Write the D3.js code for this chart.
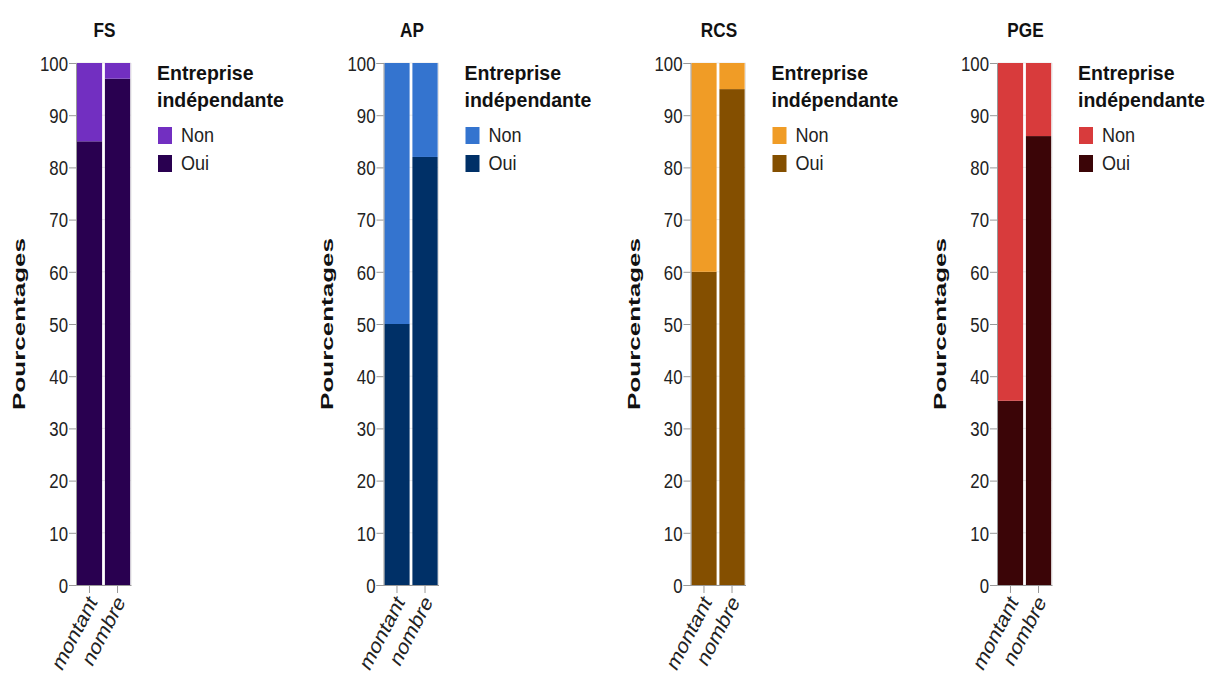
<!DOCTYPE html>
<html><head><meta charset="utf-8">
<script src="https://cdn.jsdelivr.net/npm/d3@7"></script>
<style>
body{margin:0;background:#fff;}
svg{display:block;}
text{font-family:"Liberation Sans",Arial,sans-serif;}
</style></head><body>
<svg id="c" width="1209" height="675"></svg>
<script>
const panels = ["FS","AP","RCS","PGE"];
const categories = ["montant","nombre"];
const legendTitle = ["Entreprise","indépendante"];
const legendLabels = ["Non","Oui"];
const ouiValues = {
  FS:  [85, 97],
  AP:  [50, 82],
  RCS: [60, 95],
  PGE: [35.3, 86]
};
const nonValues = {
  FS:  [15, 3],
  AP:  [50, 18],
  RCS: [40, 5],
  PGE: [64.7, 14]
};
const yTicks = [0,10,20,30,40,50,60,70,80,90,100];
const colorsNon = {FS:"#722fc1", AP:"#3474cf", RCS:"#f09c26", PGE:"#d83b3c"};
const colorsOui = {FS:"#290050", AP:"#003067", RCS:"#844f00", PGE:"#3b0507"};

const svg = d3.select("#c");
const panelX = [76, 383.5, 690.5, 997];
const plotW = 55;
const SX = 0.8;
const y = d3.scaleLinear().domain([0,100]).range([585,63]);

panels.forEach((p,i)=>{
  const g = svg.append("g").attr("transform",`translate(${panelX[i]},0)`);
  const x = d3.scaleBand().domain(categories).range([0,plotW]).paddingInner(0.1).paddingOuter(0.03);
  // grid
  g.append("g").selectAll("line").data(yTicks).join("line")
    .attr("x1",0).attr("x2",plotW).attr("y1",d=>y(d)).attr("y2",d=>y(d))
    .attr("stroke","#ebebeb").attr("stroke-width",1);
  g.append("line").attr("x1",plotW).attr("x2",plotW).attr("y1",y(0)).attr("y2",y(100)).attr("stroke","#e3e3e3");
  // stacked bars
  const rows = categories.map((c,k)=>({cat:c, oui:ouiValues[p][k], non:nonValues[p][k]}));
  g.append("g").selectAll("rect").data(rows).join("rect")
    .attr("x",d=>x(d.cat)).attr("width",x.bandwidth())
    .attr("y",d=>y(d.oui)).attr("height",d=>y(0)-y(d.oui))
    .attr("fill",colorsOui[p]);
  g.append("g").selectAll("rect").data(rows).join("rect")
    .attr("x",d=>x(d.cat)).attr("width",x.bandwidth())
    .attr("y",d=>y(d.oui+d.non)).attr("height",d=>y(d.oui)-y(d.oui+d.non))
    .attr("fill",colorsNon[p]);
  // y axis
  const ya = g.append("g").call(d3.axisLeft(y).tickValues(yTicks).tickSize(7));
  ya.select(".domain").attr("stroke","#999");
  ya.selectAll(".tick line").attr("stroke","#999");
  ya.selectAll("text").attr("font-size",21).attr("fill","#222").attr("font-family","Liberation Sans, Arial, sans-serif")
    .attr("x",0).attr("dy","0.35em").attr("transform",`translate(-8,0) scale(${SX},1)`);
  // x axis
  const xa = g.append("g").attr("transform",`translate(0,${y(0)})`).call(d3.axisBottom(x).tickSize(8).tickSizeOuter(0));
  xa.select(".domain").attr("stroke","#999");
  xa.selectAll(".tick line").attr("stroke","#999");
  xa.selectAll("text").attr("font-size",23).attr("fill","#222").attr("font-family","Liberation Sans, Arial, sans-serif")
    .attr("text-anchor","end").attr("dy","0.35em").attr("x",0).attr("y",0)
    .attr("transform",`translate(3,13) scale(${SX},1) rotate(-57)`);
  // title
  g.append("text").attr("transform",`translate(${plotW/2+1},37) scale(0.86,1)`).attr("text-anchor","middle")
    .attr("font-size",20).attr("font-weight","bold").attr("fill","#111").text(p);
  // y label
  g.append("text").attr("transform",`translate(${-51},${324}) rotate(-90) scale(1.3,0.8)`).attr("text-anchor","middle")
    .attr("font-weight","bold").attr("font-size",20).attr("fill","#111").text("Pourcentages");
  // legend
  const lg = g.append("g").attr("transform",`translate(${81},0)`);
  lg.selectAll("text.lt").data(legendTitle).join("text").attr("class","lt")
    .attr("transform",(d,k)=>`translate(0,${80+k*27}) scale(0.93,1)`)
    .attr("font-size",21).attr("font-weight","bold").attr("fill","#111").text(d=>d);
  const items = legendLabels.map((l,k)=>({l, c: k===0?colorsNon[p]:colorsOui[p]}));
  const it = lg.selectAll("g.it").data(items).join("g").attr("class","it").attr("transform",(d,k)=>`translate(1,${127+k*28})`);
  it.append("rect").attr("width",14).attr("height",17).attr("fill",d=>d.c);
  it.append("text").attr("transform","translate(23,15) scale(0.86,1)").attr("font-size",21).attr("fill","#222").text(d=>d.l);
});
</script>
</body></html>
